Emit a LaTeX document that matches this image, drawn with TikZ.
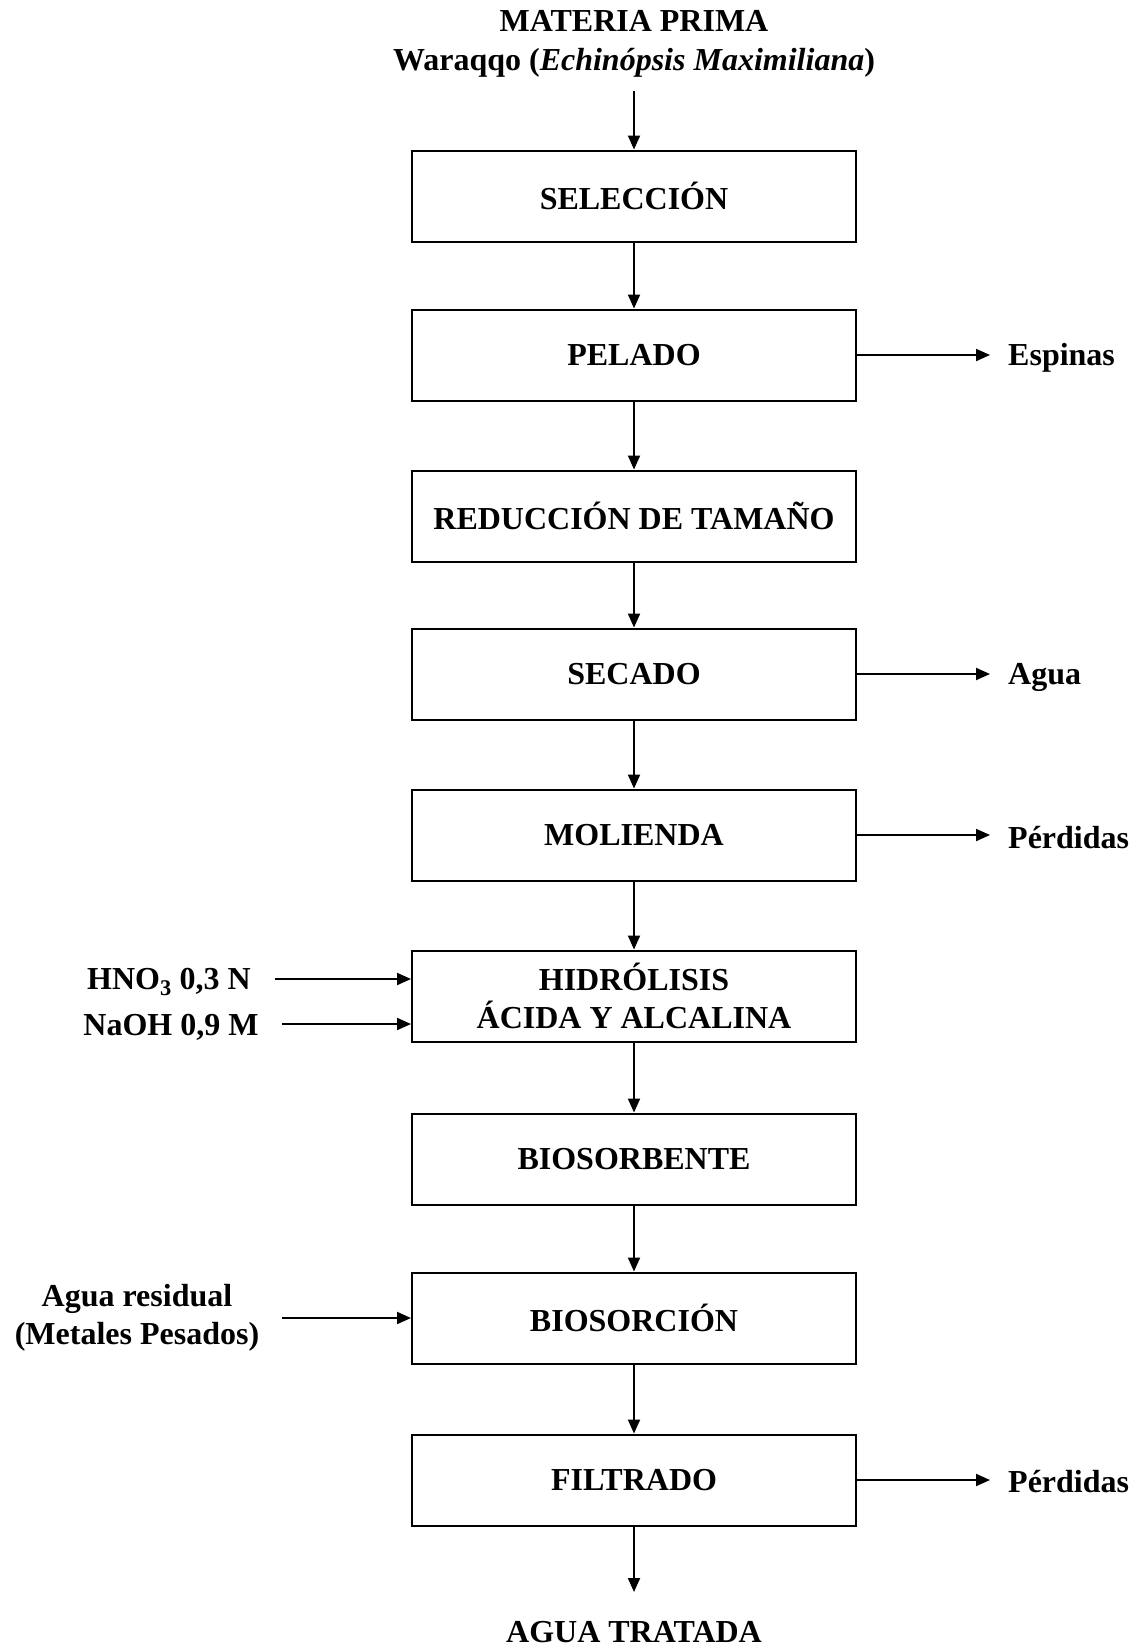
\documentclass[tikz,border=0pt]{standalone}
\usepackage{fontspec}
\setmainfont{Liberation Serif}
\usetikzlibrary{arrows.meta}
\begin{document}
\begin{tikzpicture}[x=1pt,y=-1pt,
  font=\fontsize{32}{38}\selectfont\bfseries,
  procbox/.style={draw,line width=2pt,minimum width=444pt,minimum height=91pt,align=center,inner sep=0pt},
  lbl/.style={inner sep=0pt,align=center},
  arr/.style={line width=2pt,-{Triangle[length=14pt,width=12pt]}}]
\useasboundingbox (0,0) rectangle (1144,1647);
\node[lbl] (mp) at (634,21) {MATERIA PRIMA};
\node[lbl] (wq) at (634,63) {Waraqqo (\textit{Echinópsis Maximiliana})};
\coordinate (top) at (634,91);
\node[procbox] (sel) at (634,196) {SELECCIÓN};
\node[procbox] (pel) at (634,355) {PELADO};
\node[procbox] (red) at (634,516) {REDUCCIÓN DE TAMAÑO};
\node[procbox] (sec) at (634,674) {SECADO};
\node[procbox] (mol) at (634,835) {MOLIENDA};
\node[procbox] (hid) at (634,996) {HIDRÓLISIS\\ÁCIDA Y ALCALINA};
\node[procbox] (bsb) at (634,1159) {BIOSORBENTE};
\node[procbox] (bsc) at (634,1318) {BIOSORCIÓN};
\node[procbox] (fil) at (634,1480) {FILTRADO};
\node[lbl] (at) at (634,1632) {AGUA TRATADA};
\coordinate (atin) at (634,1592);
% right outputs
\node[lbl,anchor=west] (esp) at (1008,358) {Espinas};
\node[lbl,anchor=west] (agu) at (1008,677) {Agua};
\node[lbl,anchor=west] (per1) at (1008,838) {Pérdidas};
\node[lbl,anchor=west] (per2) at (1008,1482) {Pérdidas};
% left inputs
\node[lbl] (hno) at (169,982) {HNO\textsubscript{3} 0,3 N};
\node[lbl] (naoh) at (171,1027) {NaOH 0,9 M};
\node[lbl] (agr) at (137,1318) {Agua residual\\(Metales Pesados)};
\coordinate (hnos) at (275,979);
\coordinate (naohs) at (282,1024);
\coordinate (agrs) at (282,1318);
% vertical flow
\draw[arr] (top) -- (sel.north);
\draw[arr] (sel) -- (pel);
\draw[arr] (pel) -- (red);
\draw[arr] (red) -- (sec);
\draw[arr] (sec) -- (mol);
\draw[arr] (mol) -- (hid);
\draw[arr] (hid) -- (bsb);
\draw[arr] (bsb) -- (bsc);
\draw[arr] (bsc) -- (fil);
\draw[arr] (fil.south) -- (atin);
% right arrows
\draw[arr] (pel.east) -- (pel.east -| 990,0);
\draw[arr] (sec.east) -- (sec.east -| 990,0);
\draw[arr] (mol.east) -- (mol.east -| 990,0);
\draw[arr] (fil.east) -- (fil.east -| 990,0);
% left arrows
\draw[arr] (hnos) -- (hnos -| hid.west);
\draw[arr] (naohs) -- (naohs -| hid.west);
\draw[arr] (agrs) -- (agrs -| bsc.west);
\end{tikzpicture}
\end{document}
